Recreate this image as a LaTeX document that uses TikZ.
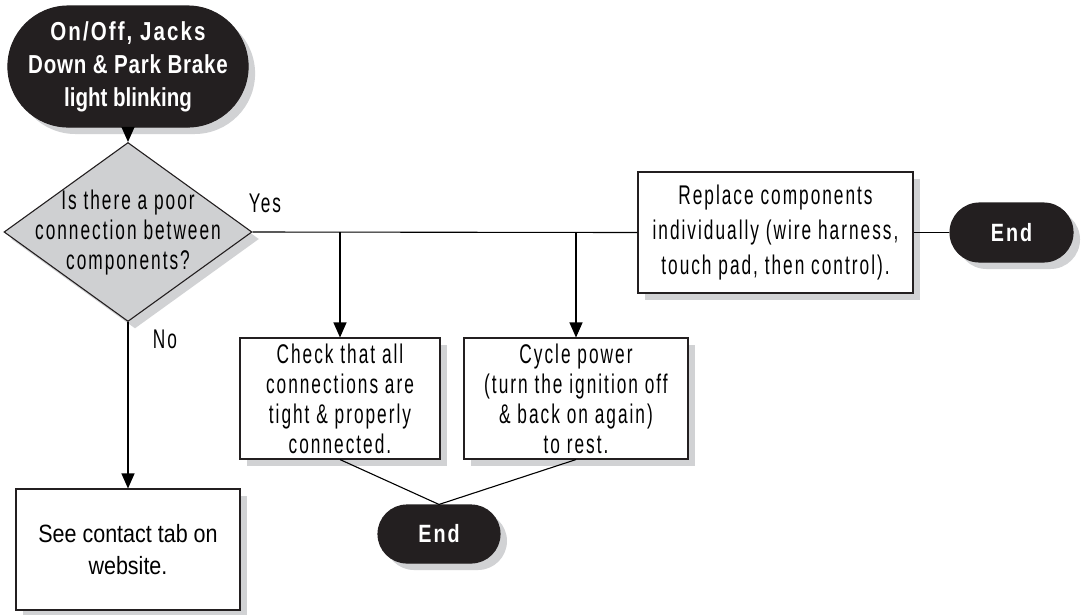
\documentclass[tikz,border=0pt]{standalone}
\usepackage{fontspec}
\setmainfont{Liberation Sans}
\newfontfamily\nfont{Liberation Sans}[FakeStretch=0.64,LetterSpace=7.4]
\newfontfamily\bnfont{Liberation Sans}[FakeStretch=0.79]
\newfontfamily\sfont{Liberation Sans}[FakeStretch=0.86]
\usetikzlibrary{shapes.geometric,shapes.misc,arrows.meta,shadows}
\definecolor{blk}{HTML}{231F20}
\definecolor{shadowgray}{HTML}{D1D2D4}
\definecolor{diagray}{HTML}{CFD0D2}
\begin{document}
\begin{tikzpicture}[x=1pt,y=-1pt,
  line width=1.1pt,
  shadowed/.style={drop shadow={shadow xshift=7pt,shadow yshift=-7pt,fill=shadowgray,opacity=1}},
  term/.style={rounded rectangle, fill=blk, draw=blk, text=white, shadowed, inner sep=0pt, align=center},
  endtxt/.style={font=\bnfont\bfseries\fontsize{25}{30}\selectfont\addfontfeature{LetterSpace=8}},
  box/.style={rectangle, draw=blk, fill=white, shadowed, inner sep=0pt, align=center, minimum height=121pt, font=\nfont\fontsize{27}{30}\selectfont},
  decision/.style={diamond, draw=blk, fill=diagray, shadowed, inner sep=0pt, minimum width=248pt, minimum height=179pt},
  arr/.style={-{Triangle[length=15pt,width=13pt]}},
  lbl/.style={font=\nfont\fontsize{27}{30}\selectfont, inner sep=0pt, align=center}
]
\useasboundingbox (0,0) rectangle (1083,614);
\fill[white] (0,0) rectangle (1083,614);

\node[term, minimum width=240pt, minimum height=121pt, font=\bnfont\bfseries\fontsize{26}{33}\selectfont] (start) at (128,66.5)
  {{\addfontfeature{LetterSpace=8}On/Off, Jacks}\\{\addfontfeature{LetterSpace=3}Down \& Park Brake}\\light blinking};

\node[decision] (dec) at (128,232) {};
\node[lbl] (dectxt) at (128,233) {Is there a poor\\connection between\\components?};

\node[lbl] (yes) at (265,203) {Yes};
\node[lbl] (no) at (165,339) {No};

\node[box, minimum width=275pt, font=\nfont\fontsize{27}{35}\selectfont] (rep) at (775.5,232.5)
  {Replace components\\individually (wire harness,\\touch pad, then control).};
\node[term, minimum width=123pt, minimum height=59pt, endtxt] (endR) at (1011.5,232.5) {End};

\node[box, minimum width=200pt] (check) at (340,398.5)
  {Check that all\\connections are\\tight \& properly\\connected.};
\node[box, minimum width=224pt] (cyc) at (576,398.5)
  {Cycle power\\(turn the ignition off\\\& back on again)\\to rest.};

\node[term, minimum width=122pt, minimum height=58pt, endtxt] (endB) at (439,534) {End};

\node[box, minimum width=224pt, font=\sfont\fontsize{25}{32}\selectfont] (see) at (128,549.5)
  {See contact tab on\\website.};

\draw[arr] (start.south) -- (dec.north);
\draw (dec.east) -- (rep.west);
\draw[arr] (check.north |- dec.east) -- (check.north);
\draw[arr] (cyc.north |- dec.east) -- (cyc.north);
\draw (rep.east) -- (endR.west);
\draw (check.south) -- (endB.north);
\draw (cyc.south) -- (endB.north);
\draw[arr] (dec.south) -- (see.north);
\end{tikzpicture}
\end{document}
